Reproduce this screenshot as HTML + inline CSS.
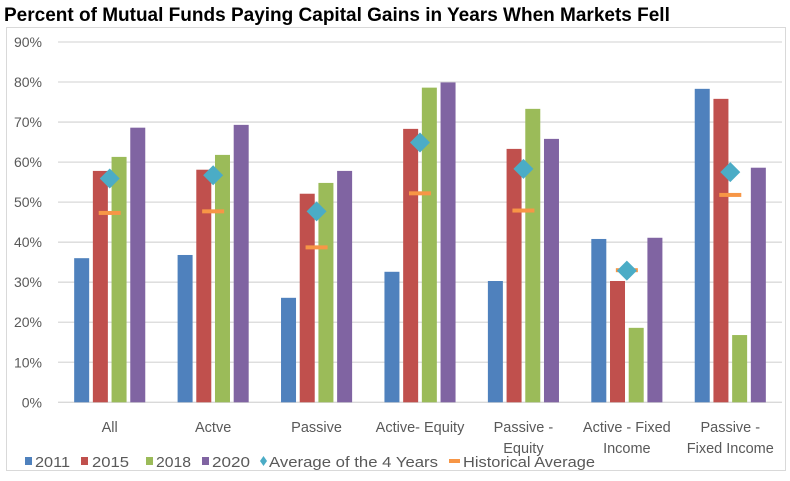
<!DOCTYPE html>
<html><head><meta charset="utf-8"><style>
body{margin:0;width:790px;height:476px;background:#fff;overflow:hidden;font-family:"Liberation Sans",Arial,sans-serif}
</style></head><body>
<svg width="790" height="476" xmlns="http://www.w3.org/2000/svg">
<rect x="0" y="0" width="790" height="476" fill="#fff"/>
<rect x="6.5" y="27.5" width="779" height="443" fill="#fff" stroke="#d9d9d9"/>
<text x="4" y="21" font-size="19" font-weight="bold" fill="#000">Percent of Mutual Funds Paying Capital Gains in Years When Markets Fell</text>
<g id="grid"></g><g id="bars"></g><g id="marks"></g><g id="labels"></g><g id="legend"></g>
</svg>
<script>
const categories=[["All"],["Actve"],["Passive"],["Active- Equity"],["Passive -","Equity"],["Active - Fixed","Income"],["Passive -","Fixed Income"]];
const years=["2011","2015","2018","2020"];
const v2011=[36.0,36.8,26.1,32.6,30.3,40.8,78.3];
const v2015=[57.8,58.1,52.1,68.3,63.3,30.3,75.8];
const v2018=[61.3,61.8,54.8,78.6,73.3,18.6,16.8];
const v2020=[68.6,69.3,57.8,79.9,65.8,41.1,58.6];
const avg4=[55.9,56.7,47.7,64.9,58.3,32.9,57.5];
const histAvg=[47.3,47.7,38.7,52.2,47.9,33.0,51.8];
const ticks=[0,10,20,30,40,50,60,70,80,90];
const colors=["#4f81bd","#c0504d","#9bbb59","#8064a2"];
const NS="http://www.w3.org/2000/svg";
const x0=58,x1=782,yZero=402.3,yTop=42;
const yS=v=>yZero-(v/90)*(yZero-yTop);
const cw=(x1-x0)/categories.length;
const cx=i=>x0+cw*(i+0.5);
function mk(t,a,p){const e=document.createElementNS(NS,t);for(const k in a)e.setAttribute(k,a[k]);p.appendChild(e);return e;}
const G=document.getElementById('grid'),B=document.getElementById('bars'),M=document.getElementById('marks'),L=document.getElementById('labels'),LG=document.getElementById('legend');
ticks.forEach(t=>{
 const l=mk('line',{x1:x0,x2:x1,y1:yS(t),y2:yS(t),stroke:"#d9d9d9","stroke-width":1.3},G);
 
 
 const tx=mk('text',{x:42,y:yS(t)+5,"text-anchor":"end","font-size":14,fill:"#595959"},G);
 tx.textContent=t+"%";
 
 
});
const series=[v2011,v2015,v2018,v2020];
categories.forEach((c,i)=>{
 series.forEach((s,j)=>{
  const bx=cx(i)+(j-1.5)*18.7-7.5;
  const r=mk('rect',{x:bx,y:yS(s[i]),width:15,height:yZero-yS(s[i]),fill:colors[j]},B);
  
  
 });
 const hy=yS(histAvg[i]);
 const h=mk('rect',{x:cx(i)-11,y:hy-2,width:22,height:4,fill:"#f79646"},M);
 
 
 const ay=yS(avg4[i]),ax=cx(i);
 const d=mk('polygon',{points:`${ax},${ay-10} ${ax+10},${ay} ${ax},${ay+10} ${ax-10},${ay}`,fill:"#4bacc6"},M);
 
 
 c.forEach((line,k)=>{
  const t=mk('text',{x:cx(i),y:432+k*21,"text-anchor":"middle","font-size":14.5,fill:"#595959"},L);
  t.textContent=line;
  
  
 });
});
const legendItems=[["sq",colors[0],25,"2011",35,35],["sq",colors[1],81,"2015",92,37],["sq",colors[2],146,"2018",156,35],["sq",colors[3],202,"2020",212,38],["dia","#4bacc6",260,"Average of the 4 Years",269,169],["dash","#f79646",449,"Historical Average",463,132]];
legendItems.forEach(([k,c,sx,txt,tx,tl])=>{
 let s;
 if(k==="sq")s=mk('rect',{x:sx,y:457,width:7,height:8,fill:c},LG);
 else if(k==="dia")s=mk('polygon',{points:`${sx+3.5},456 ${sx+7},461 ${sx+3.5},466 ${sx},461`,fill:c},LG);
 else s=mk('rect',{x:sx,y:459,width:11,height:4,fill:c},LG);
 
 
 const t=mk('text',{x:tx,y:467,"font-size":15,fill:"#595959",textLength:tl,lengthAdjust:"spacingAndGlyphs"},LG);
 t.textContent=txt;
 
 
});
</script>
</body></html>
